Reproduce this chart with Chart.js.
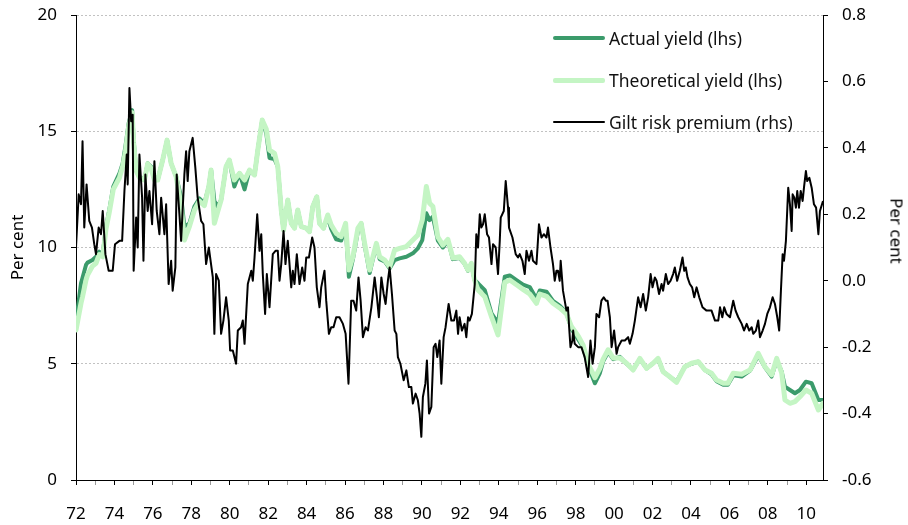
<!DOCTYPE html>
<html><head><meta charset="utf-8">
<script src="https://cdn.jsdelivr.net/npm/chart.js@4.4.1/dist/chart.umd.min.js"></script>
<style>
body{margin:0;background:#fff;}
#wrap{position:relative;width:908px;height:525px;}
.leg{position:absolute;left:553px;height:22px;display:flex;align-items:center;font:17.5px "Noto Sans",sans-serif;color:#111;white-space:nowrap;}
.sw{display:inline-block;width:52px;margin-right:4px;border-radius:2px;}
#rtitle{position:absolute;left:897px;top:231px;transform:translate(-50%,-50%) rotate(90deg);font:17px "Noto Sans",sans-serif;color:#000;white-space:nowrap;}
</style></head>
<body><div id="wrap"><canvas id="c" width="908" height="525"></canvas>
<div class="leg" style="top:27px"><span class="sw" style="height:4px;background:#3b9b6b"></span>Actual yield (lhs)</div>
<div class="leg" style="top:69px"><span class="sw" style="height:5px;background:#c4f5c4"></span>Theoretical yield (lhs)</div>
<div class="leg" style="top:111px"><span class="sw" style="height:2px;background:#000"></span>Gilt risk premium (rhs)</div>
<div id="rtitle">Per cent</div>
</div>
<script>
const yieldDates = [
1972.00,1972.26,1972.34,1972.52,1972.60,1972.86,
1973.04,1973.21,1973.39,1973.56,1973.73,1973.94,
1974.26,1974.43,1974.57,1974.74,1974.92,
1975.00,1975.13,1975.30,1975.56,1975.73,1975.91,
1976.08,1976.25,1976.51,1976.74,1976.95,
1977.21,1977.47,1977.64,1977.90,
1978.16,1978.42,1978.68,1978.91,
1979.03,1979.20,1979.36,1979.55,1979.81,1979.98,
1980.24,1980.51,1980.77,
1981.03,1981.29,1981.46,1981.69,1981.90,
1982.07,1982.33,1982.50,1982.68,1982.80,
1983.02,1983.20,1983.37,1983.54,1983.72,1983.98,
1984.15,1984.32,1984.53,1984.67,1984.88,
1985.10,1985.28,1985.54,1985.80,
1986.03,1986.20,1986.41,1986.67,1986.84,
1987.02,1987.28,1987.45,1987.63,1987.80,
1988.06,1988.32,1988.58,1988.84,
1989.19,1989.53,1989.79,
1990.02,1990.23,1990.40,1990.57,1990.83,
1991.09,1991.35,1991.61,1991.96,
1992.22,1992.40,1992.57,1992.74,1992.92,
1993.27,1993.62,1993.96,
1994.31,1994.57,1994.92,
1995.26,1995.61,1995.96,
1996.13,1996.48,1996.82,
1997.17,1997.52,1997.78,
1998.13,1998.39,1998.65,
1999.00,1999.26,1999.43,1999.69,1999.95,
2000.30,2000.65,2000.99,
2001.34,2001.69,
2002.03,2002.29,2002.55,2002.90,
2003.25,2003.68,
2004.03,2004.38,2004.73,
2005.07,2005.33,2005.68,2005.92,
2006.20,2006.64,
2007.07,2007.50,2007.85,
2008.20,2008.46,2008.72,2008.89,
2009.15,2009.41,2009.67,2009.98,
2010.28,2010.63,2010.87];

const actualYield = [
6.81,8.46,8.70,9.25,9.35,9.46,
9.60,9.82,9.70,10.90,11.61,12.62,
13.19,13.62,14.34,15.34,15.91,
14.62,13.33,13.05,12.90,13.62,13.48,
12.90,12.90,13.76,14.62,13.62,
13.05,12.18,10.90,11.04,
11.76,12.11,11.90,12.62,
13.33,12.00,11.76,12.04,13.48,13.76,
12.62,13.19,12.50,
13.33,13.12,14.19,15.48,14.91,
13.85,13.80,13.48,11.61,10.75,
12.04,11.04,10.83,11.61,10.90,10.83,
10.68,11.76,12.18,11.04,10.83,
11.30,10.80,10.35,10.30,
10.90,8.74,9.50,10.70,11.04,
10.10,8.90,9.50,10.10,9.50,
9.40,9.10,9.46,9.53,
9.60,9.75,9.96,
10.32,11.47,11.18,11.33,10.30,
10.00,10.30,9.50,9.55,
9.30,9.00,9.30,8.60,8.46,
8.17,7.17,6.75,
8.74,8.80,8.60,
8.40,8.30,7.80,
8.15,8.10,7.70,
7.50,7.20,6.50,
6.05,5.70,4.90,
4.16,4.60,5.10,5.50,5.20,
5.30,5.00,4.75,
5.20,4.80,
5.02,5.20,4.66,4.44,
4.23,4.87,
5.00,5.09,4.73,
4.55,4.25,4.10,4.10,
4.50,4.45,
4.70,5.35,4.85,
4.45,5.15,4.66,4.01,
3.87,3.73,3.87,4.23,
4.16,3.44,3.44];

const theoreticalYield = [
6.45,7.60,7.88,8.60,8.82,9.20,
9.32,9.70,9.60,10.80,11.50,12.50,
13.00,13.50,14.10,15.20,15.80,
14.50,13.30,13.00,12.90,13.60,13.40,
12.90,12.90,13.76,14.62,13.62,
13.05,11.80,10.32,10.90,
11.60,12.00,11.80,12.62,
13.33,11.04,11.50,12.04,13.48,13.76,
12.90,13.19,12.90,
13.33,13.12,14.19,15.48,15.10,
14.19,14.05,13.48,11.61,10.75,
12.04,11.04,10.83,11.61,10.90,10.83,
10.68,11.76,12.18,11.04,10.83,
11.40,10.97,10.61,10.47,
11.04,9.03,9.60,10.83,11.04,
10.18,9.03,9.60,10.18,9.60,
9.46,9.17,9.89,9.96,
10.04,10.32,10.54,
11.18,12.62,11.90,11.76,10.45,
10.10,10.35,9.55,9.60,
9.32,9.03,9.32,8.60,8.17,
7.88,7.02,6.24,
8.50,8.60,8.40,
8.20,8.00,7.60,
8.00,7.90,7.60,
7.40,7.15,6.60,
6.20,5.80,5.00,
4.40,4.80,5.20,5.60,5.25,
5.25,5.02,4.73,
5.23,4.80,
5.02,5.23,4.66,4.44,
4.20,4.87,
5.02,5.09,4.73,
4.59,4.30,4.16,4.16,
4.59,4.55,
4.73,5.45,4.87,
4.52,5.23,4.60,3.44,
3.30,3.37,3.58,3.87,
3.73,3.01,3.30];

const riskDates = [
1972.00,1972.14,1972.26,1972.34,1972.43,1972.55,1972.69,1972.83,1972.95,
1973.04,1973.18,1973.30,1973.39,1973.53,1973.70,1973.91,
1974.03,1974.26,1974.40,1974.52,1974.64,1974.69,1974.78,1974.87,1974.95,
1975.00,1975.13,1975.21,1975.30,1975.44,1975.51,1975.61,1975.73,1975.82,1975.96,
1976.08,1976.20,1976.34,1976.43,1976.60,1976.69,1976.82,1976.95,
1977.03,1977.17,1977.24,1977.38,1977.47,1977.64,1977.73,1977.81,1977.90,
1978.07,1978.21,1978.33,1978.51,1978.63,1978.77,1978.91,
1979.12,1979.20,1979.29,1979.43,1979.55,1979.67,1979.81,1979.95,
1980.02,1980.16,1980.33,1980.42,1980.59,1980.68,1980.77,1980.94,
1981.12,1981.20,1981.29,1981.43,1981.55,1981.64,1981.72,1981.84,1981.93,
1982.07,1982.24,1982.38,1982.50,1982.59,1982.68,1982.80,1982.90,
1983.02,1983.20,1983.28,1983.37,1983.49,1983.63,1983.77,1983.89,1983.98,
1984.12,1984.29,1984.41,1984.53,1984.67,1984.76,1984.93,
1985.02,1985.16,1985.28,1985.40,1985.54,1985.71,1985.89,
1986.03,1986.18,1986.32,1986.44,1986.58,1986.70,1986.81,1986.93,
1987.07,1987.19,1987.37,1987.54,1987.66,1987.76,1987.89,
1988.01,1988.11,1988.23,1988.32,1988.44,1988.58,1988.67,1988.75,1988.88,
1989.05,1989.19,1989.32,1989.45,1989.53,1989.67,1989.79,1989.88,1989.97,
1990.05,1990.18,1990.26,1990.37,1990.49,1990.61,1990.71,1990.80,1990.92,
1991.01,1991.13,1991.23,1991.39,1991.53,1991.67,1991.79,1991.88,1991.96,
1992.08,1992.22,1992.31,1992.40,1992.48,1992.60,1992.75,1992.83,1992.92,
1993.01,1993.09,1993.18,1993.27,1993.39,1993.49,1993.62,1993.70,1993.84,1993.96,
1994.05,1994.10,1994.26,1994.36,1994.48,1994.53,1994.71,1994.88,
1995.00,1995.09,1995.23,1995.35,1995.44,1995.57,1995.70,1995.78,1995.96,
1996.09,1996.22,1996.35,1996.48,1996.56,1996.69,1996.82,1996.91,
1997.00,1997.08,1997.17,1997.22,1997.34,1997.43,1997.52,1997.60,1997.66,1997.73,1997.83,1997.87,1997.95,
1998.13,1998.30,1998.47,1998.65,1998.77,1998.88,
1999.00,1999.08,1999.22,1999.34,1999.46,1999.57,1999.66,1999.78,1999.87,
2000.00,2000.13,2000.21,2000.39,2000.56,2000.73,2000.82,2000.96,
2001.08,2001.25,2001.38,2001.51,2001.65,2001.77,2001.90,
2002.00,2002.12,2002.21,2002.34,2002.47,2002.55,2002.69,2002.81,2002.94,
2003.07,2003.16,2003.28,2003.42,2003.56,2003.65,2003.73,2003.82,2003.94,
2004.06,2004.17,2004.29,2004.43,2004.60,2004.81,
2005.07,2005.25,2005.42,2005.51,2005.63,2005.73,2005.85,
2006.03,2006.20,2006.32,2006.46,2006.64,2006.76,2006.90,
2007.03,2007.16,2007.24,2007.38,2007.50,2007.59,2007.73,2007.85,2007.97,
2008.11,2008.25,2008.37,2008.49,2008.59,2008.68,2008.77,2008.84,2008.94,
2009.06,2009.15,2009.24,2009.29,2009.38,2009.46,2009.53,2009.62,2009.71,2009.81,2009.88,2009.98,
2010.05,2010.16,2010.28,2010.40,2010.51,2010.63,2010.71,2010.87];

const riskPremium = [
0.10,0.26,0.23,0.42,0.16,0.29,0.18,0.16,0.11,
0.08,0.16,0.14,0.21,0.08,0.03,0.03,
0.11,0.12,0.12,0.27,0.38,0.29,0.58,0.48,0.50,
0.03,0.19,0.10,0.38,0.25,0.06,0.32,0.21,0.27,0.17,
0.36,0.21,0.14,0.25,0.14,0.23,-0.01,0.06,
-0.03,0.04,0.32,0.20,0.12,0.32,0.39,0.30,0.39,
0.43,0.34,0.25,0.18,0.17,0.05,0.10,
0.01,-0.16,0.02,0.00,-0.16,-0.12,-0.05,-0.12,
-0.21,-0.21,-0.25,-0.15,-0.14,-0.12,-0.19,-0.01,
0.03,0.00,0.07,0.20,0.09,0.14,0.02,-0.10,0.02,
-0.08,0.08,0.09,0.09,0.00,0.05,0.15,0.05,
0.12,-0.02,0.03,-0.01,0.08,-0.01,0.04,0.00,0.07,
0.07,0.13,0.10,-0.02,-0.08,-0.02,0.03,
-0.06,-0.16,-0.14,-0.14,-0.11,-0.11,-0.13,
-0.16,-0.31,-0.06,-0.06,-0.09,0.01,-0.06,-0.17,
-0.14,-0.15,-0.08,0.01,-0.05,-0.11,0.01,
-0.04,-0.07,0.00,0.04,-0.04,-0.15,-0.16,-0.23,-0.25,
-0.30,-0.27,-0.32,-0.32,-0.37,-0.34,-0.36,-0.40,-0.47,
-0.35,-0.31,-0.24,-0.40,-0.38,-0.20,-0.19,-0.23,-0.18,
-0.31,-0.17,-0.14,-0.07,-0.12,-0.12,-0.09,-0.16,-0.11,
-0.15,-0.13,-0.17,-0.11,-0.12,-0.10,-0.01,0.14,0.10,
0.20,0.16,0.17,0.20,0.14,0.13,0.05,0.11,0.10,0.02,
0.12,0.19,0.21,0.30,0.22,0.16,0.13,0.08,
0.07,0.08,0.06,0.02,0.09,0.06,0.09,0.06,0.05,
0.17,0.13,0.14,0.13,0.16,0.10,0.05,0.00,
0.03,0.03,0.00,0.06,-0.03,-0.06,-0.09,-0.08,-0.14,-0.20,-0.18,-0.15,-0.19,
-0.20,-0.20,-0.23,-0.29,-0.18,-0.25,
-0.20,-0.10,-0.11,-0.06,-0.05,-0.06,-0.06,-0.11,-0.20,
-0.15,-0.22,-0.20,-0.18,-0.18,-0.17,-0.19,-0.16,
-0.12,-0.05,-0.08,-0.04,-0.09,-0.05,0.02,
-0.02,0.01,0.00,-0.04,-0.01,-0.03,0.02,-0.01,0.00,
0.02,0.04,0.00,0.03,0.07,0.03,0.04,0.01,-0.01,
-0.02,-0.05,-0.02,-0.05,-0.08,-0.09,
-0.09,-0.12,-0.12,-0.08,-0.11,-0.08,-0.10,
-0.11,-0.06,-0.09,-0.11,-0.13,-0.15,-0.13,
-0.15,-0.14,-0.16,-0.15,-0.12,-0.17,-0.15,-0.13,-0.10,
-0.08,-0.05,-0.07,-0.11,-0.15,-0.03,0.08,0.06,0.12,
0.28,0.23,0.15,0.26,0.25,0.22,0.27,0.22,0.27,0.24,0.28,0.33,
0.30,0.31,0.28,0.23,0.22,0.14,0.21,0.24];

const xMin = 1972, xMax = 2010.87;
const leftTicks = {min: 0, max: 20, step: 5};
const rightTicks = {min: -0.6, max: 0.8, step: 0.2};

const FONT = '"Noto Sans", sans-serif';
const pts = (xs, ys) => xs.map((x, i) => ({x: x, y: ys[i]}));

new Chart(document.getElementById('c'), {
  type: 'line',
  data: {
    datasets: [
      {label: 'Actual yield (lhs)', data: pts(yieldDates, actualYield), yAxisID: 'y',
       borderColor: '#3b9b6b', borderWidth: 4, pointRadius: 0, tension: 0, order: 3,
       borderJoinStyle: 'round', borderCapStyle: 'round'},
      {label: 'Theoretical yield (lhs)', data: pts(yieldDates, theoreticalYield), yAxisID: 'y',
       borderColor: '#c4f5c4', borderWidth: 5, pointRadius: 0, tension: 0, order: 2,
       borderJoinStyle: 'round', borderCapStyle: 'round'},
      {label: 'Gilt risk premium (rhs)', data: pts(riskDates, riskPremium), yAxisID: 'y1',
       borderColor: '#000000', borderWidth: 2, pointRadius: 0, tension: 0, order: 1,
       borderJoinStyle: 'round'}
    ]
  },
  options: {
    responsive: false, animation: false, devicePixelRatio: 1,
    layout: {padding: {top: 15, left: 0, right: 0, bottom: 0}},
    plugins: {legend: {display: false}, tooltip: {enabled: false}},
    scales: {
      x: {
        type: 'linear', min: xMin, max: xMax,
        afterFit: s => { s.height = 45; s.paddingLeft = 0; s.paddingRight = 0; },
        grid: {drawOnChartArea: false, drawTicks: true, tickLength: 5,
               tickColor: c => (Math.round(c.tick ? c.tick.value : 0) % 2 === 0 ? '#000' : '#999')},
        border: {display: true, color: '#000', width: 1},
        ticks: {stepSize: 1, autoSkip: false, maxRotation: 0, minRotation: 0, includeBounds: false,
                padding: 19, color: '#000', font: {family: FONT, size: 17},
                callback: v => { const r = Math.round(v); return (Math.abs(v - r) < 1e-6 && r % 2 === 0) ? String(r % 100).padStart(2, '0') : ''; }}
      },
      y: {
        position: 'left', min: leftTicks.min, max: leftTicks.max,
        afterFit: s => { s.width = 76; s.paddingTop = 0; s.paddingBottom = 0; },
        grid: {color: '#c2c2c2', lineWidth: 1, drawTicks: true, tickLength: 5, tickColor: '#000'},
        border: {display: true, color: '#000', width: 1, dash: [2, 2]},
        ticks: {stepSize: leftTicks.step, padding: 14, color: '#000', font: {family: FONT, size: 17}},
        title: {display: true, text: 'Per cent', color: '#000', font: {family: FONT, size: 17}, padding: {top: 8, bottom: 0}}
      },
      y1: {
        position: 'right', min: rightTicks.min, max: rightTicks.max,
        afterFit: s => { s.width = 85; s.paddingTop = 0; s.paddingBottom = 0; },
        grid: {drawOnChartArea: false, drawTicks: true, tickLength: 5, tickColor: '#000'},
        border: {display: true, color: '#000', width: 1},
        ticks: {stepSize: rightTicks.step, padding: 14, color: '#000', font: {family: FONT, size: 17},
                callback: v => (Math.abs(v) < 1e-9 ? '0.0' : Number(v).toFixed(1))},
        title: {display: false}
      }
    }
  }
});
</script>
</body></html>
